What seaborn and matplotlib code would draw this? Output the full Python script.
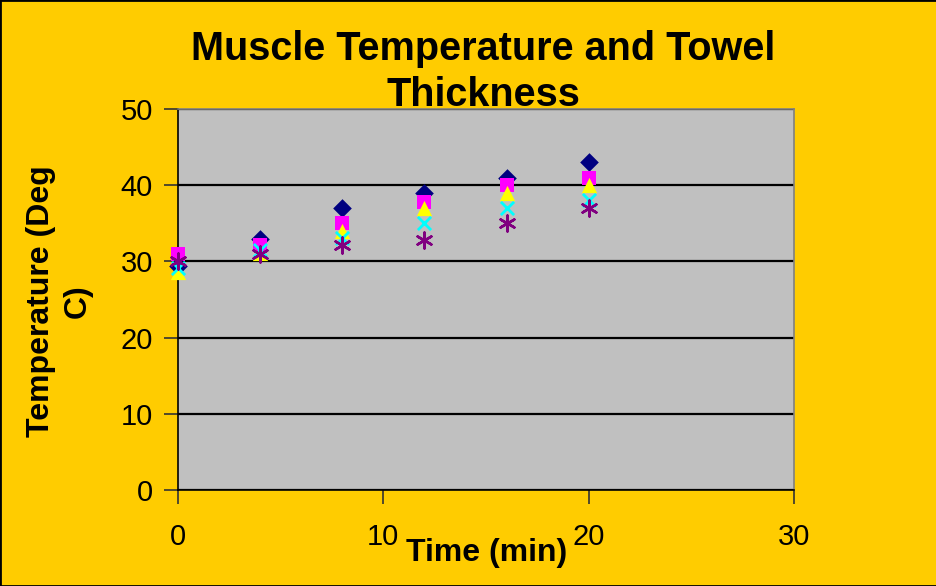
import matplotlib
matplotlib.use("Agg")
import matplotlib.pyplot as plt
import seaborn as sns
import pandas as pd
from matplotlib.patches import Rectangle

# ---- data ----
time_min = [0, 4, 8, 12, 16, 20]
series_a = [29.4, 33.0, 37.0, 39.0, 41.0, 43.0]   # navy diamond
series_b = [31.0, 32.1, 35.0, 37.8, 40.0, 41.0]   # magenta square
series_c = [28.6, 31.1, 34.0, 37.0, 39.0, 40.0]   # yellow triangle
series_d = [29.1, 31.5, 33.1, 35.0, 37.0, 38.0]   # cyan x
series_e = [30.0, 31.0, 32.1, 32.8, 35.0, 37.0]   # purple asterisk
series_names = ["Series 1", "Series 2", "Series 3", "Series 4", "Series 5"]
x_ticks = [0, 10, 20, 30]
y_ticks = [0, 10, 20, 30, 40, 50]

sns.set_theme(style="white")
plt.rcParams['font.family'] = ['Liberation Sans', 'DejaVu Sans']
plt.rcParams['text.color'] = 'black'

fig = plt.figure(figsize=(9.37, 5.86), dpi=100)
fig.patch.set_facecolor("#FFCC00")
ax = fig.add_axes([178/937, 1-490/586, (794-178)/937, (490-109)/586])
ax.set_facecolor("#C0C0C0")

styles = [
    dict(marker="D", color="#000080", s=90, linewidth=0),
    dict(marker="s", color="#FF00FF", s=110, linewidth=0),
    dict(marker="^", color="#FFFF00", s=120, linewidth=0),
    dict(marker="x", color="#00FFFF", s=90, linewidth=2),
    dict(marker=(6, 2, 0), color="#800080", s=130, linewidth=1.8),
]
all_series = [series_a, series_b, series_c, series_d, series_e]
for i, (name, vals, st) in enumerate(zip(series_names, all_series, styles)):
    df = pd.DataFrame({"Time (min)": time_min, "Temp": vals})
    sns.scatterplot(data=df, x="Time (min)", y="Temp", ax=ax,
                    marker=st["marker"], color=st["color"], s=st["s"],
                    linewidth=st["linewidth"], edgecolor=st["color"] if st["marker"] in ("D", "s", "^") else None,
                    zorder=3 + i, clip_on=False, legend=False)

ax.set_xlim(0, 30)
ax.set_ylim(0, 50)
ax.set_xticks(x_ticks)
ax.set_yticks(y_ticks)
ax.yaxis.grid(True, color="black", linewidth=1.6)
ax.set_axisbelow(True)
for sp in ["top", "right"]:
    ax.spines[sp].set_color("#808080")
    ax.spines[sp].set_linewidth(1.2)
for sp in ["left", "bottom"]:
    ax.spines[sp].set_color("black")
    ax.spines[sp].set_linewidth(1.2)
ax.tick_params(axis="both", direction="out", length=10, width=1.2, color="#333333",
               labelsize=21, labelcolor="black", pad=8, left=True, bottom=True)
ax.tick_params(axis="x", pad=14)

ax.set_xlabel("")
ax.set_ylabel("")
fig.text(487/937, 1-553/586, "Time (min)", ha="center", va="center",
         fontsize=23, fontweight="bold", color="black")
fig.text(59/937, 1-301/586, "Temperature (Deg\nC)", ha="center", va="center",
         rotation=90, fontsize=23, fontweight="bold", linespacing=1.3, color="black")
fig.text(483/937, 1-72/586, "Muscle Temperature and Towel\nThickness", ha="center",
         va="center", fontsize=28.5, fontweight="bold", linespacing=1.25, zorder=10,
         color="black")

fig.patches.append(Rectangle((0, 0), 1, 1, transform=fig.transFigure, fill=False,
                             edgecolor="black", linewidth=2, zorder=20))

fig.savefig("out.png", dpi=100, facecolor=fig.get_facecolor())
